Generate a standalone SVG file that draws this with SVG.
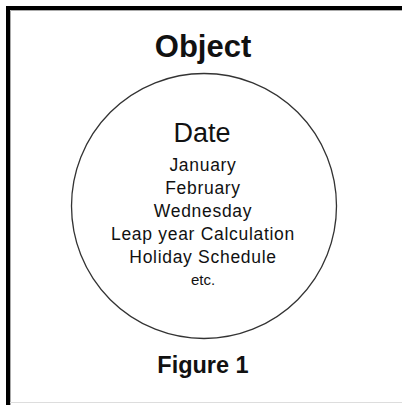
<svg xmlns="http://www.w3.org/2000/svg" width="402" height="405" viewBox="0 0 402 405">
<style>
text{font-family:"Liberation Sans",Arial,sans-serif;fill:#111;text-anchor:middle}
.t{font-weight:bold}
.i{font-size:17.5px;letter-spacing:0.7px}
</style>
<rect x="0" y="0" width="402" height="405" fill="#fff"/>
<g id="frame">
<rect x="6" y="6" width="396" height="4" fill="#000"/>
<rect x="6" y="6" width="4" height="399" fill="#000"/>
<line x1="10.5" y1="10.5" x2="402" y2="10.5" stroke="#aaa" stroke-width="1"/>
<line x1="10.5" y1="10.5" x2="10.5" y2="405" stroke="#aaa" stroke-width="1"/>
<line x1="10" y1="402.5" x2="402" y2="402.5" stroke="#ddd" stroke-width="1"/>
</g>
<g id="title"><text class="t" x="203" y="57" font-size="31">Object</text></g>
<g id="date">
<circle cx="204" cy="206" r="132.5" fill="none" stroke="#333" stroke-width="1.3"/>
<text x="202" y="142" font-size="27">Date</text>
<text class="i" x="203" y="171">January</text>
<text class="i" x="203" y="194">February</text>
<text class="i" x="203" y="217">Wednesday</text>
<text class="i" x="203" y="240">Leap year Calculation</text>
<text class="i" x="203" y="263">Holiday Schedule</text>
<text class="i" x="203" y="285" style="font-size:15px;letter-spacing:0">etc.</text>
</g>
<g id="caption"><text class="t" x="203" y="373" font-size="23.5">Figure 1</text></g>
</svg>
